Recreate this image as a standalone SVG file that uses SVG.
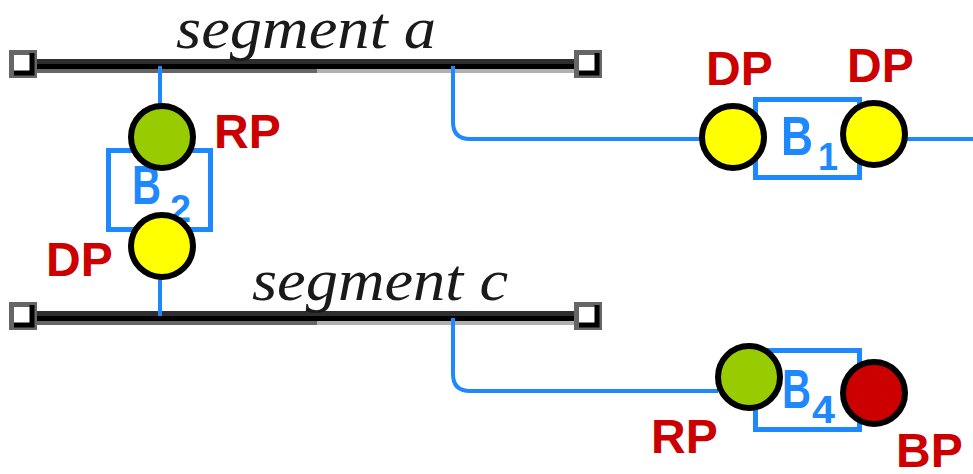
<svg xmlns="http://www.w3.org/2000/svg" width="973" height="474" viewBox="0 0 973 474">
<style>
.seg{font-family:"Liberation Serif",serif;font-style:italic;font-size:60px;fill:#1a1a1a}
.lbl{font-family:"Liberation Sans",Arial,sans-serif;font-weight:bold;font-size:48px;fill:#cc0000}
.b{font-family:"Liberation Sans",Arial,sans-serif;font-weight:bold;font-size:56px;fill:#1e88ff}
.sub{font-family:"Liberation Sans",Arial,sans-serif;font-weight:bold;font-size:38px;fill:#1e88ff}
.box{fill:none;stroke:#1e88ff;stroke-width:5}
.wire{fill:none;stroke:#1e88ff;stroke-width:4}
.pt{stroke:#000;stroke-width:6}
</style>
<defs>
<g id="bar">
<rect x="30" y="0" width="550" height="5" fill="#2e2e2e"/>
<rect x="30" y="5" width="550" height="5" fill="#000"/>
<rect x="30" y="10" width="287" height="4" fill="#666"/>
<rect x="317" y="10" width="263" height="4" fill="#b0b0b0"/>
</g>
<g id="sq">
<rect x="0" y="0" width="28" height="28" fill="#666"/>
<rect x="5" y="5" width="18" height="18" fill="#fff"/>
<path d="M23,3 V23 H5" fill="none" stroke="#000" stroke-width="5"/>
</g>
</defs>
<g id="segment-a">
<use href="#bar" x="0" y="59"/>
<use href="#sq" x="9" y="50"/>
<use href="#sq" x="574" y="50"/>
<text class="seg" x="176" y="48" textLength="260" lengthAdjust="spacingAndGlyphs">segment a</text>
</g>
<g id="segment-c">
<use href="#bar" x="0" y="311"/>
<use href="#sq" x="9" y="302"/>
<use href="#sq" x="574" y="302"/>
<text class="seg" x="252" y="300" textLength="256" lengthAdjust="spacingAndGlyphs">segment c</text>
</g>
<g id="connectors">
<path class="wire" d="M160,66 V104"/>
<path class="wire" d="M160,278 V316"/>
<path class="wire" d="M453,66 V122 Q453,139 470,139 H702"/>
<path class="wire" d="M906,139 H973"/>
<path class="wire" d="M453,318 V374 Q453,391 470,391 H718"/>
</g>
<g id="B2">
<rect class="box" x="108.5" y="150.5" width="102" height="79"/>
<text class="b" x="132" y="204" textLength="29" lengthAdjust="spacingAndGlyphs">B</text>
<text class="sub" x="170" y="222" textLength="21" lengthAdjust="spacingAndGlyphs">2</text>
<circle class="pt" cx="162" cy="137" r="31" fill="#99cc00"/>
<circle class="pt" cx="162" cy="246" r="31" fill="#ffff00"/>
<text class="lbl" x="214" y="148">RP</text>
<text class="lbl" x="46" y="276">DP</text>
</g>
<g id="B1">
<rect class="box" x="755.5" y="99.5" width="104" height="78"/>
<text class="b" x="781" y="155" textLength="32" lengthAdjust="spacingAndGlyphs">B</text>
<text class="sub" x="818" y="170" textLength="20" lengthAdjust="spacingAndGlyphs">1</text>
<circle class="pt" cx="733" cy="137" r="31" fill="#ffff00"/>
<circle class="pt" cx="874" cy="134" r="31" fill="#ffff00"/>
<text class="lbl" x="706" y="85">DP</text>
<text class="lbl" x="847" y="82">DP</text>
</g>
<g id="B4">
<rect class="box" x="755.5" y="350.5" width="104" height="79"/>
<text class="b" x="782" y="408" textLength="29" lengthAdjust="spacingAndGlyphs">B</text>
<text class="sub" x="812" y="423" textLength="23" lengthAdjust="spacingAndGlyphs">4</text>
<circle class="pt" cx="749" cy="377" r="31" fill="#99cc00"/>
<circle class="pt" cx="874" cy="393" r="31" fill="#cc0000"/>
<text class="lbl" x="651" y="453">RP</text>
<text class="lbl" x="896" y="467">BP</text>
</g>
</svg>
